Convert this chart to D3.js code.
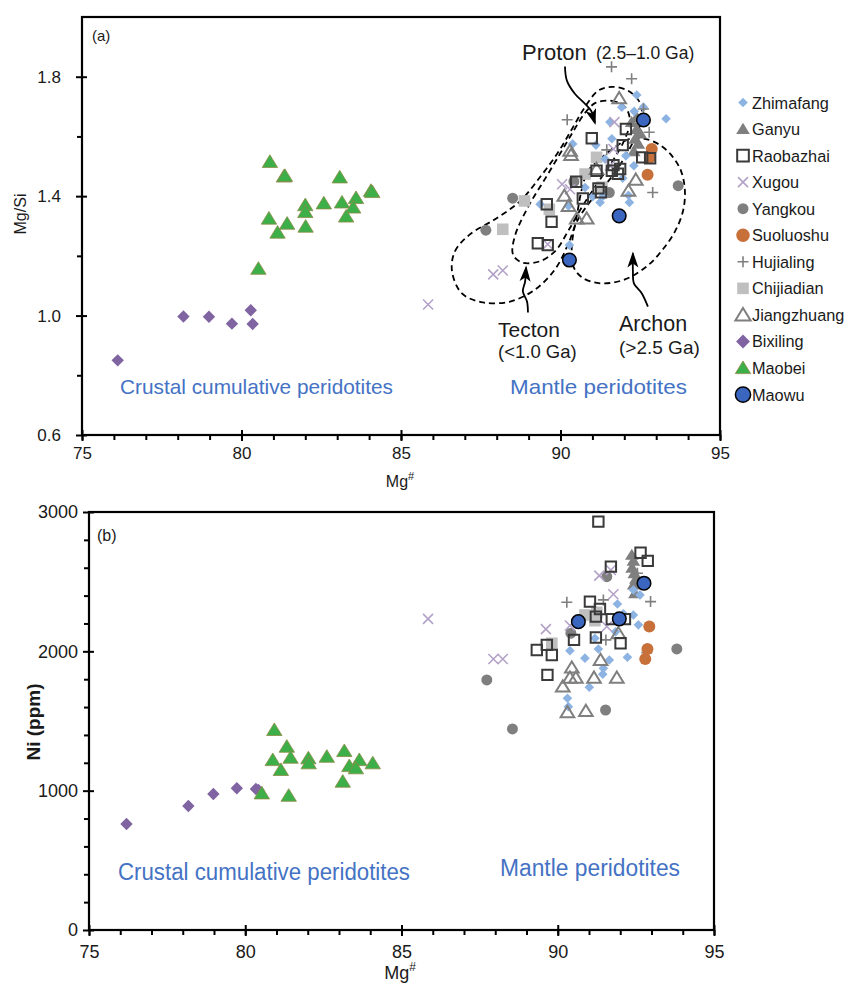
<!DOCTYPE html>
<html>
<head>
<meta charset="utf-8">
<script src="https://cdn.jsdelivr.net/npm/d3@7"></script>
<style>
  body { margin: 0; background: #fff; }
  text { font-family: "Liberation Sans", Arial, sans-serif; fill: #1a1a1a; }
  .narrow { font-family: "Liberation Sans Narrow", "Arial Narrow", "Liberation Sans", Arial, sans-serif; }
</style>
</head>
<body>
<script>

/* ---------- panel (a): [Mg#, Mg/Si] ---------- */
var zhimafangA = [[92.39,1.739],[91.92,1.698],[92.60,1.698],[93.31,1.659],[92.31,1.684],[91.55,1.648],[91.61,1.592],
  [90.38,1.575],[91.11,1.571],[92.05,1.535],[92.30,1.502],[91.40,1.524],[90.77,1.429],[92.13,1.403],[91.34,1.401],
  [89.36,1.373],[90.28,1.236],[92.16,1.379],[91.24,1.379],[90.25,1.367],[91.01,1.398],[91.95,1.460]];
var ganyuA = [[92.39,1.664],[92.23,1.648],[92.39,1.625],[92.34,1.592],[92.44,1.575],[92.50,1.610],[92.30,1.550]];
var raobazhaiA = [[92.05,1.625],[91.95,1.571],[90.98,1.594],[92.56,1.530],[92.81,1.527],[91.66,1.504],[91.61,1.485],
  [91.87,1.491],[90.49,1.448],[91.19,1.426],[91.27,1.413],[90.70,1.392],[89.57,1.373],[89.72,1.314],[89.29,1.242],
  [89.60,1.236],[91.13,1.485],[91.80,1.475]];
var xugouA = [[85.85,1.037],[87.89,1.138],[88.19,1.151],[89.60,1.239],[90.30,1.423],[91.69,1.648],[91.66,1.558],
  [91.55,1.502],[90.05,1.440]];
var yangkouA = [[87.66,1.286],[88.50,1.393],[90.42,1.449],[93.69,1.435],[91.53,1.412]];
var suoluoshuA = [[92.86,1.558],[92.73,1.472],[92.81,1.529]];
var hujialingA = [[91.60,1.833],[92.23,1.793],[92.60,1.692],[92.78,1.614],[92.89,1.412],[90.21,1.656],[91.45,1.555]];
var chijiadianA = [[88.87,1.384],[88.19,1.289],[89.65,1.356],[91.13,1.530],[90.77,1.474],[91.30,1.430]];
var jiangzhuangA = [[91.84,1.728],[90.30,1.552],[90.33,1.538],[91.13,1.491],[92.36,1.455],[92.13,1.418],[90.12,1.401],
  [90.25,1.367],[90.51,1.325],[90.82,1.325]];
var bixilingA = [[76.12,0.850],[78.18,0.997],[78.98,0.996],[79.70,0.973],[80.29,1.018],[80.35,0.972]];
var maobeiA = [[80.89,1.515],[81.33,1.466],[81.36,1.468],[83.08,1.463],[84.06,1.418],[84.10,1.414],[82.00,1.370],
  [82.58,1.376],[83.15,1.379],[83.59,1.394],[83.50,1.362],[82.00,1.347],[80.86,1.325],[81.43,1.308],[81.13,1.278],
  [82.01,1.298],[83.28,1.332],[80.53,1.157]];
var maowuA = [[92.60,1.655],[91.84,1.334],[90.28,1.186]];

/* ---------- panel (b): [Mg#, Ni ppm] ---------- */
var zhimafangB = [[91.91,2340],[92.42,2261],[92.58,2190],[90.39,2005],[90.87,1951],[91.30,2017],[91.65,1938],
  [92.23,1958],[91.46,1878],[91.44,1835],[91.01,1742],[90.31,1663],[90.34,1603],[91.19,2094],[92.63,2405],
  [92.42,2440],[91.85,2140],[92.10,2270]];
var ganyuB = [[92.37,2692],[92.42,2650],[92.38,2600],[92.45,2560],[92.50,2520],[92.43,2480],[92.47,2417]];
var raobazhaiB = [[91.30,2931],[92.65,2708],[92.88,2649],[91.70,2608],[91.03,2357],[91.35,2304],[91.22,2249],
  [91.73,2231],[92.15,2231],[91.22,2099],[92.01,2058],[89.65,2046],[89.33,2010],[89.81,1974],[89.67,1831],[90.52,2082]];
var xugouB = [[85.85,2233],[87.94,1945],[88.24,1945],[89.62,2159],[90.39,2185],[91.33,2543],[91.70,2584],
  [91.78,2410],[91.57,2178]];
var yangkouB = [[87.73,1795],[88.55,1443],[90.42,2130],[91.57,2536],[91.53,1579],[93.81,2017]];
var suoluoshuB = [[92.93,2178],[92.87,2017],[92.80,1945]];
var hujialingB = [[90.29,2352],[91.46,2369],[92.97,2357],[91.54,2082],[92.85,1991],[92.55,2560]];
var chijiadianB = [[90.87,2261],[91.19,2220],[89.81,2058],[91.25,2280]];
var jiangzhuangB = [[90.45,1883],[90.39,1811],[90.58,1811],[90.16,1747],[91.16,1811],[91.37,1938],[91.89,1811],
  [91.94,2130],[90.31,1563],[90.90,1572]];
var bixilingB = [[76.20,761],[78.18,890],[78.98,976],[79.73,1017],[80.34,1012],[80.42,1005]];
var maobeiB = [[80.93,1436],[81.33,1316],[81.45,1237],[80.88,1220],[82.02,1233],[82.03,1197],[82.61,1244],
  [83.17,1285],[83.65,1220],[84.08,1197],[83.33,1177],[83.54,1161],[81.14,1149],[80.53,981],[81.39,964],[83.12,1065]];
var maowuB = [[92.76,2489],[91.97,2233],[90.66,2213]];

/* SCLM fields in panel (a), [Mg#, Mg/Si] */
var tectonField = [[86.60,1.148],[86.69,1.215],[87.16,1.272],[87.95,1.323],[88.73,1.383],[89.36,1.464],[89.89,1.541],
  [90.36,1.625],[90.77,1.699],[91.18,1.753],[91.61,1.766],[92.12,1.753],[92.49,1.713],[92.55,1.666],[92.37,1.605],
  [92.02,1.531],[91.55,1.457],[90.99,1.390],[90.52,1.316],[90.24,1.239],[89.83,1.155],[89.20,1.087],[88.42,1.047],
  [87.57,1.044],[86.91,1.074]];
var protonField = [[91.11,1.713],[91.61,1.719],[92.02,1.699],[92.18,1.652],[91.99,1.585],[91.61,1.514],[91.14,1.440],
  [90.67,1.363],[90.25,1.285],[89.85,1.218],[89.36,1.182],[88.79,1.178],[88.51,1.205],[88.57,1.266],[88.98,1.363],
  [89.51,1.457],[89.98,1.541],[90.39,1.615],[90.77,1.679]];
var archonField = [[90.86,1.484],[91.24,1.524],[91.71,1.565],[92.18,1.592],[92.65,1.592],[93.12,1.571],[93.50,1.534],
  [93.78,1.484],[93.90,1.417],[93.84,1.350],[93.59,1.282],[93.21,1.222],[92.74,1.168],[92.02,1.121],[91.24,1.108],
  [90.67,1.128],[90.39,1.168],[90.36,1.239],[90.52,1.339],[90.67,1.424]];
var protonArrow = [[90.14,1.834],[90.20,1.787],[90.45,1.743],[90.77,1.709],[90.96,1.686],[91.08,1.645]];
var tectonArrow = [[88.98,1.010],[88.95,1.047],[88.82,1.081],[88.89,1.114],[88.92,1.161]];
var archonArrow = [[92.74,1.030],[92.55,1.074],[92.30,1.108],[92.27,1.148],[92.27,1.208]];

var legendNames = ["Zhimafang","Ganyu","Raobazhai","Xugou","Yangkou","Suoluoshu","Hujialing","Chijiadian",
  "Jiangzhuang","Bixiling","Maobei","Maowu"];

// marker styles, keyed by locality
var styles = {
  Zhimafang:   {shape:"diamond",  fill:"#8db3e2", stroke:"none",    sw:0,   s:4.8},
  Ganyu:       {shape:"triangle", fill:"#7f7f7f", stroke:"none",    sw:0,   s:6.2},
  Raobazhai:   {shape:"square",   fill:"none",    stroke:"#3a3a3a", sw:2,   s:5.2},
  Xugou:       {shape:"cross",    fill:"none",    stroke:"#b3a2c7", sw:1.6, s:5},
  Yangkou:     {shape:"circle",   fill:"#7f7f7f", stroke:"none",    sw:0,   s:5.5},
  Suoluoshu:   {shape:"circle",   fill:"#c8703a", stroke:"none",    sw:0,   s:6},
  Hujialing:   {shape:"plus",     fill:"none",    stroke:"#7f7f7f", sw:1.6, s:5.5},
  Chijiadian:  {shape:"square",   fill:"#bfbfbf", stroke:"none",    sw:0,   s:5.8},
  Jiangzhuang: {shape:"triangle", fill:"none",    stroke:"#7f7f7f", sw:2,   s:6.2},
  Bixiling:    {shape:"diamond",  fill:"#8064a2", stroke:"none",    sw:0,   s:6.2},
  Maobei:      {shape:"triangle", fill:"#3daf49", stroke:"#8d8a45", sw:0.8, s:7},
  Maowu:       {shape:"circle",   fill:"#3a66c0", stroke:"#000",    sw:1.5, s:6.8}
};

var seriesA = {Zhimafang:zhimafangA, Ganyu:ganyuA, Raobazhai:raobazhaiA, Xugou:xugouA, Yangkou:yangkouA,
  Suoluoshu:suoluoshuA, Hujialing:hujialingA, Chijiadian:chijiadianA, Jiangzhuang:jiangzhuangA,
  Bixiling:bixilingA, Maobei:maobeiA, Maowu:maowuA};
var seriesB = {Zhimafang:zhimafangB, Ganyu:ganyuB, Raobazhai:raobazhaiB, Xugou:xugouB, Yangkou:yangkouB,
  Suoluoshu:suoluoshuB, Hujialing:hujialingB, Chijiadian:chijiadianB, Jiangzhuang:jiangzhuangB,
  Bixiling:bixilingB, Maobei:maobeiB, Maowu:maowuB};

// drawing order (bottom -> top)
var drawOrder = ["Chijiadian","Yangkou","Ganyu","Zhimafang","Xugou","Hujialing","Suoluoshu","Jiangzhuang",
  "Raobazhai","Bixiling","Maobei","Maowu"];

var svg = d3.select("body").append("svg").attr("width", 848).attr("height", 985);

var xA = d3.scaleLinear().domain([75,95]).range([82,720]);
var yA = d3.scaleLinear().domain([0.6,2.0]).range([435,17]);
var xB = d3.scaleLinear().domain([75,95]).range([89,714]);
var yB = d3.scaleLinear().domain([0,3000]).range([930,512]);

function shapePath(shape, s){
  if(shape === "diamond") return `M0,${-s}L${s},0L0,${s}L${-s},0Z`;
  if(shape === "triangle") return `M0,${-s}L${s*1.1},${s*0.8}L${-s*1.1},${s*0.8}Z`;
  if(shape === "square") return `M${-s},${-s}H${s}V${s}H${-s}Z`;
  if(shape === "cross") return `M${-s},${-s}L${s},${s}M${s},${-s}L${-s},${s}`;
  if(shape === "plus") return `M${-s},0H${s}M0,${-s}V${s}`;
}

function addMarker(sel, st){
  if(st.shape === "circle"){
    sel.append("circle").attr("r", st.s)
      .attr("fill", st.fill).attr("stroke", st.stroke).attr("stroke-width", st.sw);
  } else {
    sel.append("path").attr("d", shapePath(st.shape, st.s))
      .attr("fill", st.fill).attr("stroke", st.stroke).attr("stroke-width", st.sw);
  }
}

function drawAxes(g, x, y, yMajor, yMinor, yFmt, opts){
  var x0 = x.range()[0], y0 = y.range()[0];
  var tickStyle = s => s.selectAll("line").attr("stroke","#000").attr("stroke-width",2);
  // y axis
  g.append("g").attr("transform",`translate(${x0},0)`)
    .call(d3.axisLeft(y).tickValues(yMinor).tickSize(5).tickFormat(""))
    .call(s => s.select(".domain").remove()).call(tickStyle);
  g.append("g").attr("transform",`translate(${x0},0)`)
    .call(d3.axisRight(y).tickValues(yMajor).tickSize(5).tickFormat(""))
    .call(s => s.select(".domain").remove()).call(tickStyle);
  var ya = g.append("g").attr("transform",`translate(${x0},0)`)
    .call(d3.axisLeft(y).tickValues(yMajor).tickSize(6).tickPadding(opts.yPad).tickFormat(yFmt))
    .call(s => s.select(".domain").remove()).call(tickStyle);
  // x axis
  g.append("g").attr("transform",`translate(0,${y0})`)
    .call(d3.axisBottom(x).tickValues(d3.range(75,96,1)).tickSize(5).tickFormat(""))
    .call(s => s.select(".domain").remove()).call(tickStyle);
  g.append("g").attr("transform",`translate(0,${y0})`)
    .call(d3.axisTop(x).tickValues([75,80,85,90,95]).tickSize(5).tickFormat(""))
    .call(s => s.select(".domain").remove()).call(tickStyle);
  var xa = g.append("g").attr("transform",`translate(0,${y0})`)
    .call(d3.axisBottom(x).tickValues([75,80,85,90,95]).tickSize(6).tickPadding(opts.xPad).tickFormat(d3.format("d")))
    .call(s => s.select(".domain").remove()).call(tickStyle);
  [ya, xa].forEach(a => a.selectAll("text")
    .attr("font-family", null).attr("font-size", opts.fs).attr("class", opts.cls).style("fill","#1a1a1a"));
  // frame
  g.append("rect").attr("x", x0).attr("y", y.range()[1])
    .attr("width", x.range()[1]-x0).attr("height", y0-y.range()[1])
    .attr("fill","none").attr("stroke","#000").attr("stroke-width",2.2);
}

function drawPoints(g, x, y, series){
  drawOrder.forEach(name => {
    var st = styles[name];
    g.append("g").selectAll("g").data(series[name]).join("g")
      .attr("transform", d => `translate(${x(d[0])},${y(d[1])})`)
      .each(function(){ addMarker(d3.select(this), st); });
  });
}

/* ================= panel (a) ================= */
var gA = svg.append("g");
drawAxes(gA, xA, yA, [0.6,1.0,1.4,1.8], [0.8,1.2,1.6], d3.format(".1f"),
  {yPad:15, xPad:6, fs:17, cls:null});

var fieldLine = d3.line().x(d => xA(d[0])).y(d => yA(d[1])).curve(d3.curveCatmullRomClosed.alpha(0.5));
[tectonField, protonField, archonField].forEach(f => {
  gA.append("path").attr("d", fieldLine(f)).attr("fill","none")
    .attr("stroke","#000").attr("stroke-width",1.8).attr("stroke-dasharray","6,4");
});

drawPoints(gA, xA, yA, seriesA);

// arrows
var arrowLine = d3.line().x(d => xA(d[0])).y(d => yA(d[1])).curve(d3.curveCatmullRom.alpha(0.5));
[protonArrow, tectonArrow, archonArrow].forEach(a => {
  gA.append("path").attr("d", arrowLine(a))
    .attr("fill","none").attr("stroke","#000").attr("stroke-width",1.8);
  var p1 = [xA(a[a.length-2][0]), yA(a[a.length-2][1])], p2 = [xA(a[a.length-1][0]), yA(a[a.length-1][1])];
  var ang = Math.atan2(p2[1]-p1[1], p2[0]-p1[0]) * 180 / Math.PI;
  gA.append("path").attr("d","M2,0L-14,-5.5L-10,0L-14,5.5Z").attr("fill","#000")
    .attr("transform",`translate(${p2[0]},${p2[1]}) rotate(${ang})`);
});

gA.append("text").attr("x",92).attr("y",41).attr("font-size",15).text("(a)");
gA.append("text").attr("x",522).attr("y",60).attr("font-size",22).text("Proton");
gA.append("text").attr("x",596).attr("y",59).attr("font-size",17.5).text("(2.5\u20131.0 Ga)");
gA.append("text").attr("x",498).attr("y",337).attr("font-size",21).text("Tecton");
gA.append("text").attr("x",498).attr("y",358).attr("font-size",18.5).text("(<1.0 Ga)");
gA.append("text").attr("x",619).attr("y",331).attr("font-size",21.5).text("Archon");
gA.append("text").attr("x",619).attr("y",354).attr("font-size",19).text("(>2.5 Ga)");
gA.append("text").attr("x",120).attr("y",394).attr("font-size",21).attr("textLength",273)
  .attr("lengthAdjust","spacingAndGlyphs").style("fill","#4472c4").text("Crustal cumulative peridotites");
gA.append("text").attr("x",510).attr("y",394).attr("font-size",21).attr("textLength",177)
  .attr("lengthAdjust","spacingAndGlyphs").style("fill","#4472c4").text("Mantle peridotites");

gA.append("text").attr("transform","translate(26,214) rotate(-90)").attr("text-anchor","middle")
  .attr("font-size",16).text("Mg/Si");
var mgA = gA.append("text").attr("x",400).attr("y",487).attr("text-anchor","middle").attr("font-size",16);
mgA.append("tspan").text("Mg");
mgA.append("tspan").attr("font-size",11).attr("dy",-7).text("#");

/* legend */
var leg = svg.append("g");
legendNames.forEach((name, i) => {
  var cy = 102.5 + i * 26.55;
  var st = Object.assign({}, styles[name]);
  if(name === "Raobazhai" || name === "Maowu" || name === "Suoluoshu" || name === "Jiangzhuang" || name === "Bixiling"){
    st.s = st.s * 1.12;
  }
  var g = leg.append("g").attr("transform",`translate(743,${cy})`);
  addMarker(g, st);
  leg.append("text").attr("x",752).attr("y",cy+6).attr("font-size",16.3).text(name);
});

/* ================= panel (b) ================= */
var gB = svg.append("g");
drawAxes(gB, xB, yB, [0,1000,2000,3000], d3.range(200,3000,200).filter(v => v % 1000), d3.format("d"),
  {yPad:5, xPad:9, fs:18, cls:"narrow"});

drawPoints(gB, xB, yB, seriesB);

gB.append("text").attr("x",97).attr("y",541).attr("font-size",16).attr("class","narrow").text("(b)");
gB.append("text").attr("x",118).attr("y",880).attr("font-size",23).attr("textLength",292)
  .attr("lengthAdjust","spacingAndGlyphs").style("fill","#4472c4").text("Crustal cumulative peridotites");
gB.append("text").attr("x",500).attr("y",876).attr("font-size",23).attr("textLength",180)
  .attr("lengthAdjust","spacingAndGlyphs").style("fill","#4472c4").text("Mantle peridotites");
gB.append("text").attr("transform","translate(40,722) rotate(-90)").attr("text-anchor","middle")
  .attr("font-size",19).attr("font-weight","bold").attr("class","narrow").text("Ni (ppm)");
var mgB = gB.append("text").attr("x",400).attr("y",979).attr("text-anchor","middle")
  .attr("font-size",18).attr("class","narrow");
mgB.append("tspan").text("Mg");
mgB.append("tspan").attr("font-size",12).attr("dy",-8).text("#");

</script>
</body>
</html>
